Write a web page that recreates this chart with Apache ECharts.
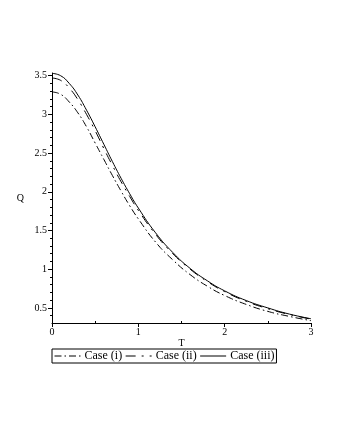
<!DOCTYPE html>
<html>
<head>
<meta charset="utf-8">
<script src="https://cdn.jsdelivr.net/npm/echarts@6/dist/echarts.min.js"></script>
<style>
  html, body { margin: 0; padding: 0; background: #fff; }
  #Chart { width: 340px; height: 440px; }
</style>
</head>
<body>
<div id="Chart"></div>
<script>
// T values and the three Q curves
var tVals  = [0, 0.1, 0.2, 0.3, 0.4, 0.5, 0.6, 0.7, 0.8, 0.9, 1.0, 1.2, 1.4, 1.6, 1.8, 2.0, 2.25, 2.5, 2.75, 3.0];
var caseI   = [3.29, 3.26, 3.16, 3.02, 2.84, 2.63, 2.42, 2.21, 2.01, 1.82, 1.65, 1.35, 1.12, 0.93, 0.78, 0.66, 0.545, 0.455, 0.39, 0.335];
var caseII  = [3.47, 3.44, 3.34, 3.19, 3.00, 2.79, 2.56, 2.34, 2.13, 1.94, 1.76, 1.45, 1.20, 1.00, 0.84, 0.71, 0.585, 0.49, 0.415, 0.355];
var caseIII = [3.53, 3.50, 3.40, 3.25, 3.055, 2.84, 2.615, 2.39, 2.175, 1.975, 1.79, 1.47, 1.215, 1.01, 0.85, 0.72, 0.595, 0.50, 0.42, 0.36];
var names = ["Case (i)", "Case (ii)", "Case (iii)"];
var yMajor = [0.5, 1, 1.5, 2, 2.5, 3, 3.5];
var yMinor = [0.4, 0.6, 0.7, 0.8, 0.9, 1.1, 1.2, 1.3, 1.4, 1.6, 1.7, 1.8, 1.9, 2.1, 2.2, 2.3, 2.4, 2.6, 2.7, 2.8, 2.9, 3.1, 3.2, 3.3, 3.4];
var xMajor = [0, 1, 2, 3];
var xMinor = [0.5, 1.5, 2.5];

function pairs(ys) {
    var out = [];
    for (var i = 0; i < tVals.length; i++) out.push([tVals[i], ys[i]]);
    return out;
}

var font = "Liberation Serif";
var myChart = echarts.init(document.getElementById("Chart"));
var option = {
    animation: false,
    textStyle: { fontFamily: font, color: "#000" },
    grid: { left: 52, top: 73, width: 259, height: 250 },
    legend: {
        data: names,
        left: 52,
        top: 349,
        itemWidth: 26,
        itemHeight: 8,
        itemGap: 3,
        padding: [1, 2, 1, 2],
        borderColor: "#000",
        borderWidth: 1,
        itemStyle: { opacity: 0 },
        lineStyle: { width: 1 },
        textStyle: { fontFamily: font, fontSize: 12, color: "#000", padding: [0, 0, 0, -1] }
    },
    xAxis: [{
        type: "value",
        min: 0, max: 3,
        name: "T",
        nameLocation: "middle",
        nameGap: 15,
        nameMoveOverlap: false,
        nameTextStyle: { fontFamily: font, fontSize: 10, color: "#000" },
        axisLine: { lineStyle: { color: "#000", width: 1 } },
        axisTick: { customValues: xMajor, length: 4, lineStyle: { color: "#000" } },
        axisLabel: { customValues: xMajor, fontFamily: font, fontSize: 10, color: "#000", margin: 4 },
        splitLine: { show: false }
    }, {
        type: "value",
        min: 0, max: 3,
        position: "bottom",
        axisLine: { show: false },
        axisTick: { customValues: xMinor, inside: true, length: 2, lineStyle: { color: "#000" } },
        axisLabel: { show: false },
        splitLine: { show: false }
    }],
    yAxis: [{
        type: "value",
        min: 0.305, max: 3.535,
        name: "Q",
        nameLocation: "middle",
        nameGap: 28,
        nameRotate: 0,
        nameMoveOverlap: false,
        nameTextStyle: { fontFamily: font, fontSize: 10, color: "#000" },
        axisLine: { show: true, lineStyle: { color: "#000", width: 1 } },
        axisTick: { show: true, customValues: yMajor, length: 4, lineStyle: { color: "#000" } },
        axisLabel: { customValues: yMajor, fontFamily: font, fontSize: 10, color: "#000", margin: 5 },
        splitLine: { show: false }
    }, {
        type: "value",
        min: 0.305, max: 3.535,
        position: "left",
        axisLine: { show: false },
        axisTick: { show: true, customValues: yMinor, length: 2, lineStyle: { color: "#000" } },
        axisLabel: { show: false },
        splitLine: { show: false }
    }],
    series: [
        {
            name: names[0], type: "line", data: pairs(caseI), smooth: true,
            symbol: "none", color: "#000",
            lineStyle: { color: "#000", width: 1, type: [7, 3, 1.5, 3] }
        },
        {
            name: names[1], type: "line", data: pairs(caseII), smooth: true,
            symbol: "none", color: "#000",
            lineStyle: { color: "#000", width: 1, type: [10, 6, 2, 6] }
        },
        {
            name: names[2], type: "line", data: pairs(caseIII), smooth: true,
            symbol: "none", color: "#000",
            lineStyle: { color: "#000", width: 1 }
        }
    ]
};
myChart.setOption(option);
window.addEventListener("resize", function () {
    myChart.resize();
});
</script>
</body>
</html>
